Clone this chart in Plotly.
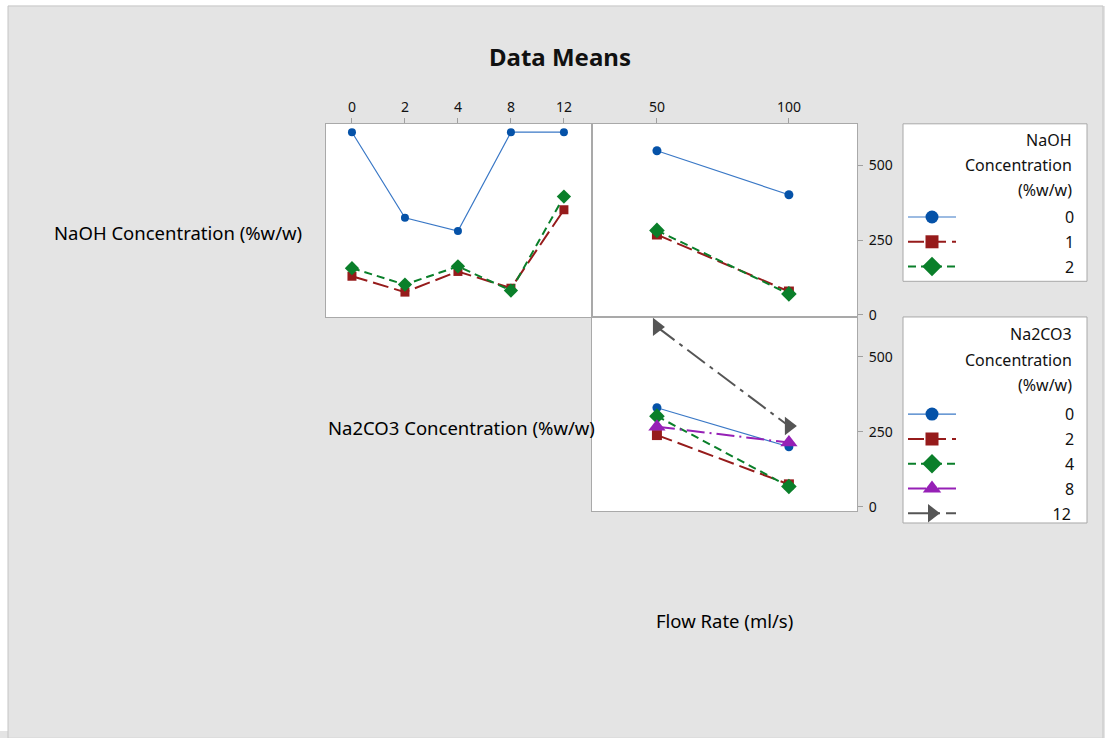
import plotly.graph_objects as go

# ---------------- data ----------------
na2co3_levels = ["0", "2", "4", "8", "12"]
flow_levels = [50, 100]
naoh_levels = ["0", "1", "2"]

# NaOH x Na2CO3 (top-left panel), one list per NaOH level
naoh0_vs_na2co3 = [610, 324, 280, 610, 610]
naoh1_vs_na2co3 = [129, 76, 145, 89, 351]
naoh2_vs_na2co3 = [156, 101, 162, 81, 395]

# NaOH x Flow rate (top-right panel)
naoh0_vs_flow = [548, 401]
naoh1_vs_flow = [268, 78]
naoh2_vs_flow = [282, 70]

# Na2CO3 x Flow rate (bottom-right panel)
na2co3_0_vs_flow = [330, 200]
na2co3_2_vs_flow = [239, 75]
na2co3_4_vs_flow = [302, 68]
na2co3_8_vs_flow = [267, 214]
na2co3_12_vs_flow = [599, 269]

y_ticks = [0, 250, 500]

naoh_legend_title = ["NaOH", "Concentration", "(%w/w)"]
na2co3_legend_title = ["Na2CO3", "Concentration", "(%w/w)"]

# ---------------- styles ----------------
F = "Noto Sans"
W, H = 1105, 738
BLUE, BLUE_L = "#0552a8", "#3a78c6"
RED = "#961b1b"
GREEN = "#0a7f2a"
PURPLE = "#9620b6"
GRAY = "#555555"

naoh_style = {
    "0": dict(color=BLUE, line=BLUE_L, symbol="circle", dash="solid", width=1.2),
    "1": dict(color=RED, line=RED, symbol="square", dash="16px,6px", width=2),
    "2": dict(color=GREEN, line=GREEN, symbol="diamond", dash="8px,5px", width=2),
}
na2_style = {
    "0": dict(color=BLUE, line=BLUE_L, symbol="circle", dash="solid", width=1.2),
    "2": dict(color=RED, line=RED, symbol="square", dash="16px,6px", width=2),
    "4": dict(color=GREEN, line=GREEN, symbol="diamond", dash="8px,5px", width=2),
    "8": dict(color=PURPLE, line=PURPLE, symbol="triangle-up", dash="18px,5px,2px,5px", width=2),
    "12": dict(color=GRAY, line=GRAY, symbol="triangle-right", dash="22px,6px,4px,6px", width=2),
}
size_small = {"circle": 8, "square": 9, "diamond": 11, "triangle-up": 14, "triangle-right": 15}
size_mid = {"circle": 9, "square": 10, "diamond": 12, "triangle-up": 15, "triangle-right": 16}
size_leg = {"circle": 13, "square": 13, "diamond": 15, "triangle-up": 16, "triangle-right": 17}

fig = go.Figure()


def add_line(x, y, st, xa, ya, sizes):
    fig.add_trace(go.Scatter(
        x=x, y=y, mode="lines+markers", xaxis=xa, yaxis=ya, showlegend=False,
        line=dict(color=st["line"], width=st["width"], dash=st["dash"]),
        marker=dict(color=st["color"], symbol=st["symbol"], size=sizes[st["symbol"]], line=dict(width=0)),
        hoverinfo="skip"))


# top-left
for lvl, vals in zip(naoh_levels, [naoh0_vs_na2co3, naoh1_vs_na2co3, naoh2_vs_na2co3]):
    add_line(na2co3_levels, vals, naoh_style[lvl], "x", "y", size_small)
# top-right
for lvl, vals in zip(naoh_levels, [naoh0_vs_flow, naoh1_vs_flow, naoh2_vs_flow]):
    add_line(flow_levels, vals, naoh_style[lvl], "x2", "y2", size_mid)
# bottom-right
for lvl, vals in zip(na2co3_levels, [na2co3_0_vs_flow, na2co3_2_vs_flow, na2co3_4_vs_flow,
                                      na2co3_8_vs_flow, na2co3_12_vs_flow]):
    add_line(flow_levels, vals, na2_style[lvl], "x3", "y3", size_mid)

NB = "\u00a0"


def add_leg(name, st, legend, pad):
    fig.add_trace(go.Scatter(
        x=[None], y=[None], mode="lines+markers", name=NB * pad + name, legend=legend,
        legendgroup=legend + name,
        line=dict(color=st["line"], width=st["width"], dash=st["dash"]),
        marker=dict(color=st["color"], symbol=st["symbol"], size=size_leg[st["symbol"]], line=dict(width=0)),
        hoverinfo="skip"))


for lvl in naoh_levels:
    add_leg(lvl, naoh_style[lvl], "legend", 25)
for lvl in na2co3_levels:
    add_leg(lvl, na2_style[lvl], "legend2", 25 if len(lvl) == 1 else 22)


def px_x(p):
    return p / W


def px_y(p):
    return 1 - p / H


xd_left = [px_x(326), px_x(592)]
xd_right = [px_x(592), px_x(857)]
yd_top = [px_y(320), px_y(125)]
yd_bot = [px_y(516), px_y(320)]

AX = dict(showline=True, linecolor="#a9a9a9", linewidth=1, mirror=True, showgrid=False,
          zeroline=False, ticks="outside", ticklen=5, tickcolor="#a0a0a0",
          tickfont=dict(family=F, size=14, color="#111"))

LEG = dict(xanchor="left", yanchor="top", bgcolor="rgba(0,0,0,0)", borderwidth=0,
           itemwidth=48, tracegroupgap=1, font=dict(family=F, size=16, color="#111"))

ann = [
    dict(text="<b>Data Means</b>", x=px_x(560), y=px_y(57), xref="paper", yref="paper",
         showarrow=False, xanchor="center", yanchor="middle",
         font=dict(family=F, size=24, color="#111")),
    dict(text="NaOH Concentration (%w/w)", x=px_x(304), y=px_y(235), xref="paper", yref="paper",
         showarrow=False, xanchor="right", yanchor="middle",
         font=dict(family=F, size=18.5, color="#000")),
    dict(text="Na2CO3 Concentration (%w/w)", x=px_x(597), y=px_y(432), xref="paper", yref="paper",
         showarrow=False, xanchor="right", yanchor="middle",
         font=dict(family=F, size=18.5, color="#000")),
    dict(text="Flow Rate (ml/s)", x=px_x(724), y=px_y(626), xref="paper", yref="paper",
         showarrow=False, xanchor="center", yanchor="middle",
         font=dict(family=F, size=18.5, color="#000")),
]
for lines, ys in [(naoh_legend_title, [141.7, 166.7, 191.7]),
                  (na2co3_legend_title, [337.7, 363.3, 389])]:
    for t, yy in zip(lines, ys):
        ann.append(dict(text=t, x=px_x(1074), y=px_y(yy), xref="paper", yref="paper",
                        showarrow=False, xanchor="right", yanchor="middle",
                        font=dict(family=F, size=16, color="#111")))

fig.update_layout(
    width=W, height=H, margin=dict(l=0, r=0, t=0, b=0),
    paper_bgcolor="#e4e4e4", plot_bgcolor="white",
    xaxis=dict(AX, domain=xd_left, anchor="y", side="top", type="category",
               categoryorder="array", categoryarray=na2co3_levels, range=[-0.49, 4.53]),
    yaxis=dict(AX, domain=yd_top, anchor="x", range=[-7, 638], showticklabels=False, ticks=""),
    xaxis2=dict(AX, domain=xd_right, anchor="y2", side="top", range=[25.4, 125.8],
                tickvals=flow_levels),
    yaxis2=dict(AX, domain=yd_top, anchor="x2", side="right", range=[-7, 638], tickvals=y_ticks,
                ticklabelstandoff=3),
    xaxis3=dict(AX, domain=xd_right, anchor="y3", range=[25.4, 125.8], showticklabels=False, ticks=""),
    yaxis3=dict(AX, domain=yd_bot, anchor="x3", side="right", range=[-14, 632], tickvals=y_ticks,
                ticklabelstandoff=3),
    legend=dict(LEG, x=px_x(903), y=px_y(202)),
    legend2=dict(LEG, x=px_x(903), y=px_y(401)),
    shapes=[
        dict(type="rect", xref="paper", yref="paper", x0=0, x1=1, y0=px_y(6), y1=1,
             fillcolor="white", line=dict(width=0), layer="below"),
        dict(type="rect", xref="paper", yref="paper", x0=0, x1=px_x(8), y0=0, y1=1,
             fillcolor="white", line=dict(width=0), layer="below"),
        dict(type="rect", xref="paper", yref="paper", x0=px_x(8), x1=px_x(1103), y0=-0.01, y1=px_y(6),
             fillcolor="rgba(0,0,0,0)", line=dict(color="#c4c4c4", width=1), layer="below"),
        dict(type="rect", xref="paper", yref="paper", x0=px_x(903), x1=px_x(1087), y0=px_y(284), y1=px_y(125),
             fillcolor="white", line=dict(color="#a8a8a8", width=1), layer="below"),
        dict(type="rect", xref="paper", yref="paper", x0=px_x(903), x1=px_x(1087), y0=px_y(528), y1=px_y(320),
             fillcolor="white", line=dict(color="#a8a8a8", width=1), layer="below"),
    ],
    annotations=ann,
)

fig.write_html("out.html")
